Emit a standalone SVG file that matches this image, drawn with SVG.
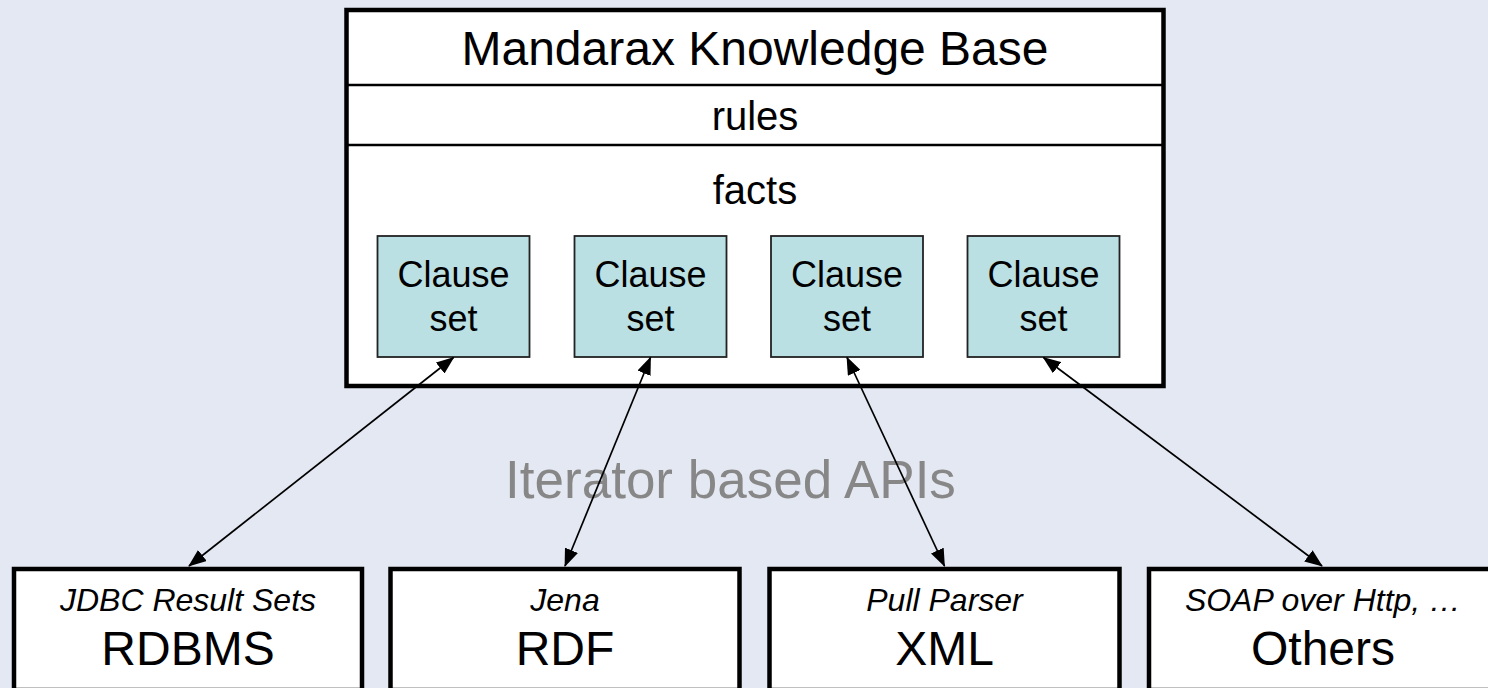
<svg xmlns="http://www.w3.org/2000/svg" width="1488" height="688" viewBox="0 0 1488 688">
  <defs>
    <marker id="ah" markerUnits="userSpaceOnUse" markerWidth="18" markerHeight="14" viewBox="0 0 18 14" refX="17" refY="7" orient="auto-start-reverse">
      <path d="M0,0 L18,7 L0,14 z" fill="#000"/>
    </marker>
    <style>
      .box { fill: #ffffff; stroke: #000; stroke-width: 4.5; }
      .div { stroke: #000; stroke-width: 2.5; }
      .cs { fill: #BAE0E3; stroke: #222; stroke-width: 1.8; }
      .t { font-family: "Liberation Sans", Arial, sans-serif; fill: #000; text-anchor: middle; }
      .it { font-style: italic; font-size: 32px; }
      .big { font-size: 48px; }
      .mid { font-size: 40px; }
      .cl { font-size: 36px; }
      .conn { stroke: #000; stroke-width: 1.7; fill: none; marker-start: url(#ah); marker-end: url(#ah); }
    </style>
  </defs>
  <rect width="1488" height="688" fill="#E4E8F2"/>

  <g id="kb">
    <rect class="box" x="346.5" y="10" width="817" height="376"/>
    <line class="div" x1="346.5" y1="85" x2="1163.5" y2="85"/>
    <line class="div" x1="346.5" y1="145" x2="1163.5" y2="145"/>
    <text class="t big" x="755" y="65">Mandarax Knowledge Base</text>
    <text class="t mid" x="755" y="130">rules</text>
    <text class="t mid" x="755" y="204">facts</text>
  </g>

  <g id="cs1">
    <rect class="cs" x="377.5" y="236" width="152" height="121"/>
    <text class="t cl" x="453.5" y="287">Clause</text>
    <text class="t cl" x="453.5" y="331">set</text>
  </g>
  <g id="cs2">
    <rect class="cs" x="574.5" y="236" width="152" height="121"/>
    <text class="t cl" x="650.5" y="287">Clause</text>
    <text class="t cl" x="650.5" y="331">set</text>
  </g>
  <g id="cs3">
    <rect class="cs" x="771" y="236" width="152" height="121"/>
    <text class="t cl" x="847" y="287">Clause</text>
    <text class="t cl" x="847" y="331">set</text>
  </g>
  <g id="cs4">
    <rect class="cs" x="967.5" y="236" width="152" height="121"/>
    <text class="t cl" x="1043.5" y="287">Clause</text>
    <text class="t cl" x="1043.5" y="331">set</text>
  </g>

  <g id="rdbms">
    <rect class="box" x="14" y="569" width="348" height="121"/>
    <text class="t it" x="188" y="611">JDBC Result Sets</text>
    <text class="t big" x="188" y="665">RDBMS</text>
  </g>
  <g id="rdf">
    <rect class="box" x="390.5" y="569" width="349" height="121"/>
    <text class="t it" x="565" y="611">Jena</text>
    <text class="t big" x="565" y="665">RDF</text>
  </g>
  <g id="xml">
    <rect class="box" x="769.5" y="569" width="350" height="121"/>
    <text class="t it" x="944.5" y="611">Pull Parser</text>
    <text class="t big" x="944.5" y="665">XML</text>
  </g>
  <g id="others">
    <rect class="box" x="1149" y="569" width="349" height="121"/>
    <text class="t it" x="1323" y="611">SOAP over Http, …</text>
    <text class="t big" x="1323" y="665">Others</text>
  </g>

  <g id="label">
    <text class="t" x="730.5" y="498" style="font-size:53px; fill:#878787">Iterator based APIs</text>
  </g>

  <g id="connectors">
    <line class="conn" x1="453.5" y1="357.5" x2="189" y2="566"/>
    <line class="conn" x1="650.5" y1="357.5" x2="565" y2="566"/>
    <line class="conn" x1="847" y1="357.5" x2="944.5" y2="566"/>
    <line class="conn" x1="1043.5" y1="357.5" x2="1322" y2="566"/>
  </g>
</svg>
